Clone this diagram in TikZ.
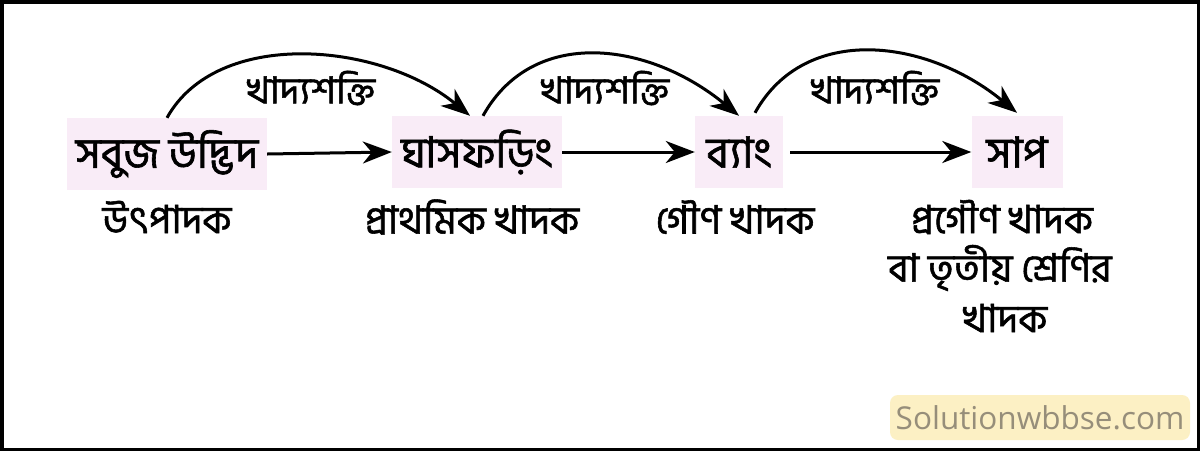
\documentclass[tikz,border=0pt]{standalone}
\usepackage{fontspec}
\newfontfamily\bn[Script=Bengali, FakeBold=1.4]{Hind Siliguri}
\newfontfamily\wm{Open Sans}
\usetikzlibrary{arrows.meta}
\definecolor{boxpink}{RGB}{249,236,247}
\definecolor{wmfill}{RGB}{252,240,196}
\definecolor{wmtext}{RGB}{150,142,122}
\tikzset{
  x=1pt, y=-1pt,
  orgbox/.style={fill=boxpink, inner sep=0pt, minimum height=72pt, font=\bn\fontsize{43}{48}\selectfont},
  lbl/.style={inner sep=0pt, font=\bn\fontsize{39}{44}\selectfont, align=center},
  arclbl/.style={inner sep=0pt, font=\bn\fontsize{37}{40}\selectfont},
  flow/.style={line width=3pt, -{Stealth[length=29pt,width=22pt,inset=9pt]}},
}
\begin{document}
\begin{tikzpicture}
\useasboundingbox (0,0) rectangle (1200,451);
\fill[white] (0,0) rectangle (1200,451);
\draw[line width=3.5pt] (1.75,1.75) rectangle (1198.25,449.25);

\node[orgbox, minimum width=200pt] (b1) at (167,154) {সবুজ উদ্ভিদ};
\node[orgbox, minimum width=170pt] (b2) at (477,152) {ঘাসফড়িং};
\node[orgbox, minimum width=88pt] (b3) at (739,152) {ব্যাং};
\node[orgbox, minimum width=91pt] (b4) at (1017,152) {সাপ};

\draw[flow] (b1.east) -- (b2.west);
\draw[flow] (b2.east) -- (b3.west);
\draw[flow, shorten <=7pt] (b3.east) -- (b4.west);

\draw[flow] (b1.north) .. controls +(50,-90) and +(-90,-74) .. ([xshift=-7pt]b2.north);
\draw[flow] ([xshift=6pt]b2.north) .. controls +(50,-90) and +(-90,-74) .. (b3.north);
\draw[flow] ([xshift=16pt,yshift=3pt]b3.north) .. controls +(50,-90) and +(-90,-74) .. ([yshift=3pt]b4.north);

\node[arclbl] (a1) at (311,88) {খাদ্যশক্তি};
\node[arclbl] (a2) at (605,88) {খাদ্যশক্তি};
\node[arclbl] (a3) at (875,88) {খাদ্যশক্তি};

\node[lbl] (l1) at (167,217) {উৎপাদক};
\node[lbl] (l2) at (472,217) {প্রাথমিক খাদক};
\node[lbl] (l3) at (735,217) {গৌণ খাদক};
\node[lbl] (l4) at (1002,217) {প্রগৌণ খাদক};
\node[lbl] (l5) at (1000,268) {বা তৃতীয় শ্রেণির};
\node[lbl] (l6) at (1005,318) {খাদক};

\node[fill=wmfill, rounded corners=8pt, minimum width=300pt, minimum height=45pt, inner sep=0pt,
      text=wmtext, font=\wm\fontsize{31.5}{34}\selectfont] (wm) at (1040,417.5) {Solutionwbbse.com};
\end{tikzpicture}
\end{document}
